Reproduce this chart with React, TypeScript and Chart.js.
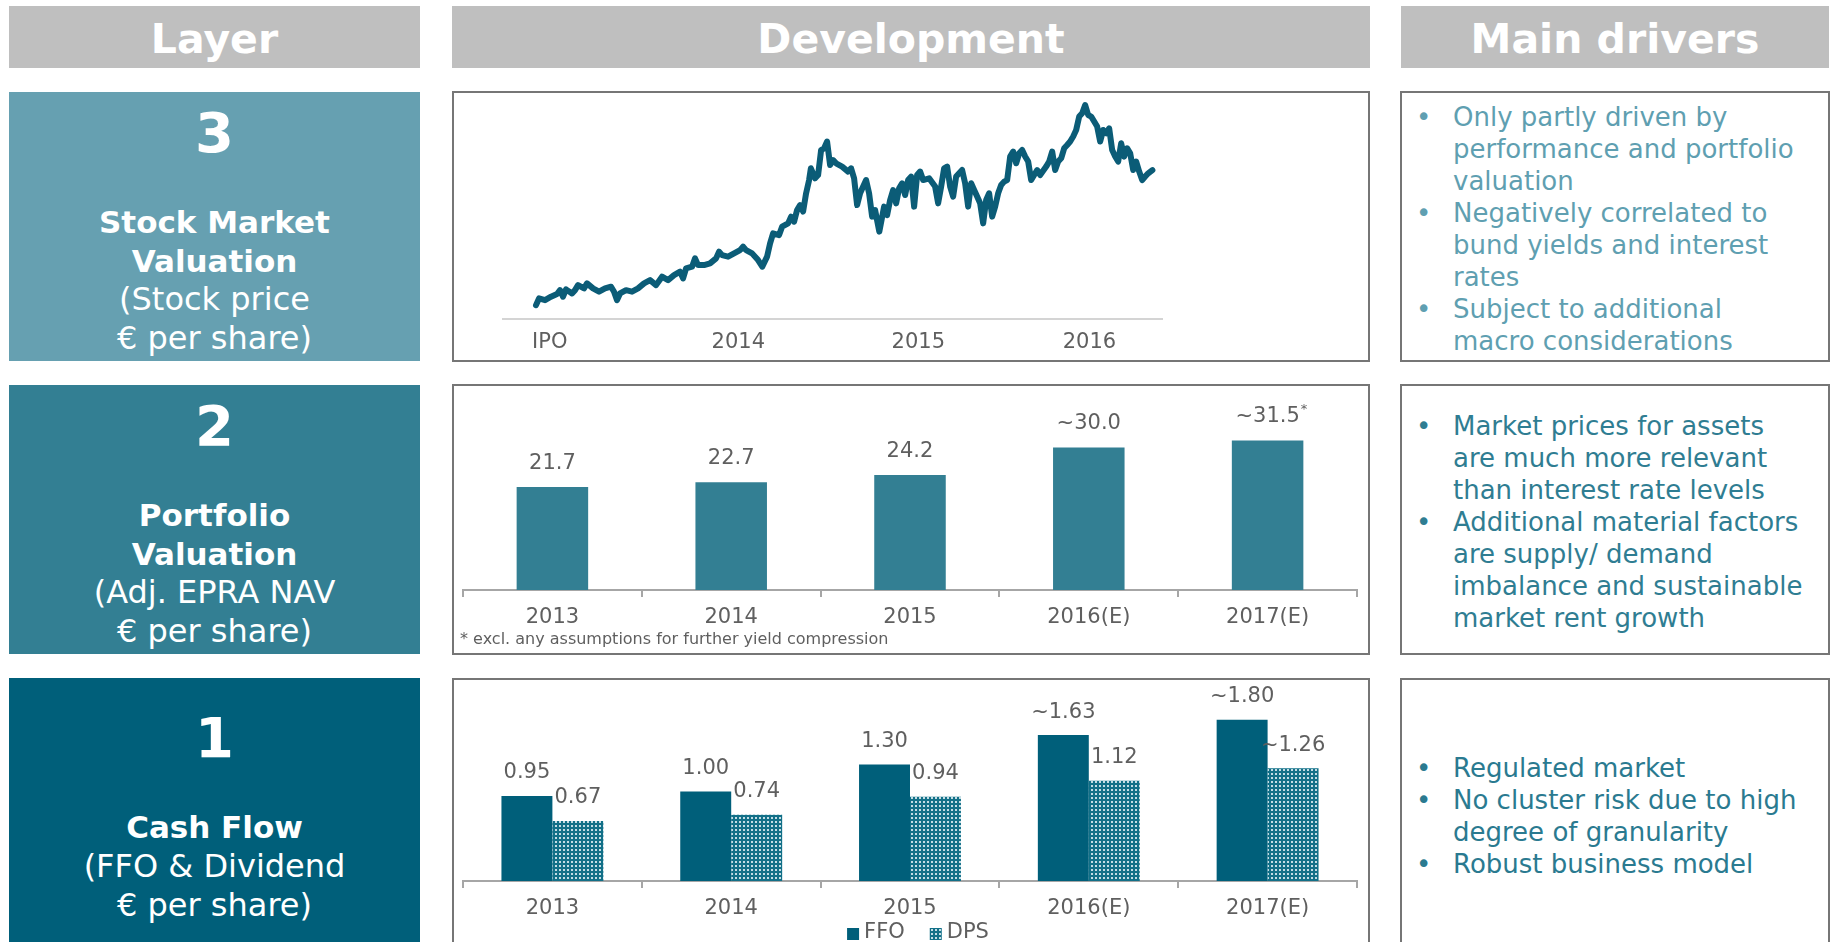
import React, { useEffect, useRef } from 'react';
import { Chart, registerables } from 'chart.js';

Chart.register(...registerables);

const FONT = '"DejaVu Sans", Verdana, sans-serif';
Chart.defaults.font.family = FONT;

// ---------- DATA ----------
const headerTitles = ['Layer', 'Development', 'Main drivers'];

// Stock price (approx. € per share), x = trading-day index since IPO
const stockDays = [0, 5, 15, 25, 35, 40, 45, 50, 60, 65, 70, 80, 85, 95, 105, 115, 125, 130, 135, 140, 150, 160, 170, 180, 190, 200, 210, 220, 230, 240, 245, 250, 260, 265, 270, 280, 290, 300, 305, 310, 320, 330, 340, 345, 350, 360, 370, 377, 385, 390, 395, 405, 410, 420, 425, 430, 435, 440, 445, 450, 455, 458, 465, 470, 475, 480, 485, 490, 495, 500, 510, 520, 525, 530, 535, 540, 550, 555, 560, 565, 572, 580, 585, 590, 595, 600, 605, 610, 615, 620, 625, 630, 635, 640, 645, 655, 665, 670, 675, 680, 685, 690, 695, 700, 705, 710, 715, 720, 725, 730, 735, 740, 745, 750, 755, 760, 765, 770, 775, 780, 785, 790, 795, 800, 805, 810, 815, 820, 825, 830, 835, 840, 850, 855, 860, 865, 870, 875, 880, 885, 890, 895, 900, 905, 910, 915, 920, 925, 930, 935, 940, 945, 950, 955, 960, 965, 970, 975, 980, 985, 990, 995, 1000, 1005, 1010, 1015, 1020, 1027];
const stockPrices = [10.10, 10.45, 10.36, 10.54, 10.68, 10.88, 10.54, 10.92, 10.71, 10.88, 11.14, 10.97, 11.23, 10.97, 10.80, 10.97, 11.06, 10.80, 10.36, 10.71, 10.88, 10.80, 10.97, 11.23, 11.40, 11.14, 11.58, 11.40, 11.66, 11.84, 11.49, 12.01, 12.10, 12.53, 12.18, 12.18, 12.27, 12.53, 12.88, 12.70, 12.62, 12.79, 12.96, 13.14, 12.96, 12.79, 12.44, 12.10, 12.62, 13.31, 13.83, 13.74, 14.18, 14.35, 14.70, 14.44, 15.04, 15.30, 14.96, 15.91, 16.60, 17.21, 16.69, 16.86, 18.16, 18.25, 18.60, 17.38, 17.64, 17.47, 17.30, 17.04, 17.21, 16.69, 15.30, 15.91, 16.60, 15.91, 14.70, 15.04, 13.92, 15.22, 14.78, 15.56, 16.08, 15.39, 16.17, 16.43, 15.82, 16.60, 16.78, 15.22, 16.86, 17.04, 16.60, 16.69, 16.26, 15.39, 16.26, 17.21, 17.30, 16.26, 15.74, 16.78, 16.95, 17.12, 16.43, 15.22, 16.43, 16.08, 15.74, 15.39, 14.35, 15.56, 15.91, 14.70, 15.22, 15.91, 16.34, 16.52, 16.60, 17.82, 18.08, 17.47, 17.99, 18.16, 17.82, 17.56, 16.60, 16.86, 17.12, 16.86, 17.30, 17.56, 18.08, 17.12, 17.56, 17.73, 18.25, 18.42, 18.60, 18.86, 19.20, 19.90, 20.07, 20.50, 19.98, 19.90, 19.64, 19.38, 18.60, 19.20, 19.03, 19.29, 18.16, 17.82, 17.56, 18.51, 17.82, 18.25, 17.99, 17.12, 17.56, 17.04, 16.60, 16.78, 16.95, 17.12];
const stockTickDays = [23, 337, 637, 922];
const stockTickLabels = ['IPO', '2014', '2015', '2016'];

const years = ['2013', '2014', '2015', '2016(E)', '2017(E)'];

const navValues = [21.7, 22.7, 24.2, 30.0, 31.5];
const navLabels = ['21.7', '22.7', '24.2', '~30.0', '~31.5'];
const navMarks = ['', '', '', '', '*'];
const navFootnote = '* excl. any assumptions for further yield compression';

const seriesNames = ['FFO', 'DPS'];
const ffoValues = [0.95, 1.0, 1.3, 1.63, 1.8];
const dpsValues = [0.67, 0.74, 0.94, 1.12, 1.26];
const ffoLabels = ['0.95', '1.00', '1.30', '~1.63', '~1.80'];
const dpsLabels = ['0.67', '0.74', '0.94', '1.12', '~1.26'];

const layers = [
  { num: '3', bold: ['Stock Market', 'Valuation'], normal: ['(Stock price', '€ per share)'] },
  { num: '2', bold: ['Portfolio', 'Valuation'], normal: ['(Adj. EPRA NAV', '€ per share)'] },
  { num: '1', bold: ['Cash Flow'], normal: ['(FFO & Dividend', '€ per share)'] },
];

const drivers = [
  [['Only partly driven by', 'performance and portfolio', 'valuation'], ['Negatively correlated to', 'bund yields and interest', 'rates'], ['Subject to additional', 'macro considerations']],
  [['Market prices for assets', 'are much more relevant', 'than interest rate levels'], ['Additional material factors', 'are supply/ demand', 'imbalance and sustainable', 'market rent growth']],
  [['Regulated market'], ['No cluster risk due to high', 'degree of granularity'], ['Robust business model']],
];

// ---------- STYLE ----------
const HEADER_GRAY = '#bfbfbf';
const LAYER_COLORS = ['#66a0b1', '#337f93', '#005f7a'];
const DRIVER_COLORS = ['#5f9fb1', '#2f7d92', '#2a7a90'];
const ROW_TOPS = [91, 384, 678];
const LABEL_GRAY = '#5f5f5f';
const AXIS_GRAY = '#a6a6a6';

function makeValueLabels(labelSets: string[][], marks: string[][] | null, size: number, offset: number) {
  return {
    id: 'valueLabels',
    afterDatasetsDraw(chart: any) {
      const ctx = chart.ctx;
      ctx.save();
      ctx.fillStyle = LABEL_GRAY;
      ctx.textAlign = 'center';
      ctx.textBaseline = 'middle';
      labelSets.forEach((arr, di) => {
        const meta = chart.getDatasetMeta(di);
        meta.data.forEach((el: any, j: number) => {
          const txt = arr[j];
          const x = el.x;
          const y = el.y - offset;
          ctx.font = `${size}px ${FONT}`;
          ctx.fillText(txt, x, y);
          const m = marks && marks[di] ? marks[di][j] : '';
          if (m) {
            const w = ctx.measureText(txt).width;
            ctx.font = `${Math.round(size * 0.6)}px ${FONT}`;
            ctx.textAlign = 'left';
            ctx.fillText(m, x + w / 2 + 1, y - size * 0.35);
            ctx.textAlign = 'center';
          }
        });
      });
      ctx.restore();
    },
  };
}

function makeBottomLegend(size: number, below: number) {
  return {
    id: 'bottomLegend',
    afterDraw(chart: any) {
      const ctx = chart.ctx;
      const { left, right, bottom } = chart.chartArea;
      const ds = chart.data.datasets;
      ctx.save();
      ctx.font = `${size}px ${FONT}`;
      ctx.textBaseline = 'middle';
      ctx.textAlign = 'left';
      const box = 12, gap = 5, itemGap = 25;
      const widths = ds.map((d: any) => box + gap + ctx.measureText(d.label).width);
      const total = widths.reduce((a: number, b: number) => a + b, 0) + itemGap * (ds.length - 1);
      let x = (left + right) / 2 - total / 2 + 8;
      const y = bottom + below;
      ds.forEach((d: any, i: number) => {
        ctx.fillStyle = d.backgroundColor;
        ctx.fillRect(x, y - box / 2 + 1, box, box);
        ctx.fillStyle = LABEL_GRAY;
        ctx.fillText(d.label, x + box + gap, y);
        x += widths[i] + itemGap;
      });
      ctx.restore();
    },
  };
}

function dotPattern(ctx: CanvasRenderingContext2D) {
  const c = document.createElement('canvas');
  c.width = 4;
  c.height = 4;
  const g = c.getContext('2d')!;
  g.fillStyle = '#127088';
  g.fillRect(0, 0, 4, 4);
  g.fillStyle = '#c3dde5';
  g.fillRect(1, 1, 2, 2);
  return ctx.createPattern(c, 'repeat');
}

const tickFont = { family: FONT, size: 21 };

function CanvasBox({ left, top, width, height, make }: any) {
  const ref = useRef<HTMLCanvasElement>(null);
  useEffect(() => {
    const chart = make(ref.current);
    return () => chart.destroy();
  }, []);
  return (
    <canvas
      ref={ref}
      width={width}
      height={height}
      style={{ position: 'absolute', left, top, width, height }}
    />
  );
}

function makeStock(canvas: HTMLCanvasElement) {
  return new Chart(canvas, {
    type: 'line',
    data: {
      datasets: [
        {
          data: stockDays.map((d, i) => ({ x: d, y: stockPrices[i] })),
          borderColor: '#0b5c77',
          borderWidth: 6,
          pointRadius: 0,
          tension: 0,
          fill: false,
          borderJoinStyle: 'round',
          borderCapStyle: 'round',
        },
      ],
    },
    options: {
      responsive: false,
      animation: false,
      layout: { padding: { left: 49, right: 206, top: 7, bottom: 0 } },
      plugins: { legend: { display: false }, tooltip: { enabled: false } },
      scales: {
        x: {
          type: 'linear',
          min: -55,
          max: 1043,
          afterBuildTicks: (s: any) => {
            s.ticks = stockTickDays.map((v) => ({ value: v }));
          },
          afterFit: (s: any) => {
            s.height = 40;
          },
          grid: { display: false, drawTicks: false },
          border: { display: true, color: '#d4d4d4', width: 2 },
          ticks: {
            autoSkip: false,
            maxRotation: 0,
            padding: 11,
            color: LABEL_GRAY,
            font: tickFont,
            callback: (v: any) => {
              const i = stockTickDays.indexOf(Number(v));
              return i >= 0 ? stockTickLabels[i] : '';
            },
          },
        },
        y: { display: false, min: 9.38, max: 20.76 },
      },
    },
  } as any);
}

function barXAxis(height: number) {
  return {
    grid: { display: true, drawOnChartArea: false, drawTicks: true, tickLength: 7, offset: true, color: AXIS_GRAY, lineWidth: 2 },
    border: { display: true, color: AXIS_GRAY, width: 2 },
    ticks: { padding: 8, color: LABEL_GRAY, font: tickFont, maxRotation: 0, autoSkip: false },
    afterFit: (s: any) => {
      s.height = height;
    },
  };
}

function makeNav(canvas: HTMLCanvasElement) {
  return new Chart(canvas, {
    type: 'bar',
    data: {
      labels: years,
      datasets: [{ label: 'Adj. EPRA NAV', data: navValues, backgroundColor: '#337f93', barPercentage: 0.4, categoryPercentage: 1 }],
    },
    options: {
      responsive: false,
      animation: false,
      layout: { padding: { left: 9, right: 11, top: 13, bottom: 0 } },
      plugins: { legend: { display: false }, tooltip: { enabled: false } },
      scales: { x: barXAxis(62), y: { display: false, min: 0, max: 40 } },
    },
    plugins: [makeValueLabels([navLabels], [navMarks], 21, 23.5)],
  } as any);
}

function makeCash(canvas: HTMLCanvasElement) {
  const ctx = canvas.getContext('2d')!;
  return new Chart(canvas, {
    type: 'bar',
    data: {
      labels: years,
      datasets: [
        { label: seriesNames[0], data: ffoValues, backgroundColor: '#005f7a', barPercentage: 1, categoryPercentage: 0.57 },
        { label: seriesNames[1], data: dpsValues, backgroundColor: dotPattern(ctx), barPercentage: 1, categoryPercentage: 0.57 },
      ],
    },
    options: {
      responsive: false,
      animation: false,
      layout: { padding: { left: 9, right: 11, top: 13, bottom: 0 } },
      plugins: { legend: { display: false }, tooltip: { enabled: false } },
      scales: { x: barXAxis(61), y: { display: false, min: 0, max: 2.1 } },
    },
    plugins: [makeValueLabels([ffoLabels, dpsLabels], null, 21, 23), makeBottomLegend(21, 52)],
  } as any);
}

function LayerBox({ idx }: { idx: number }) {
  const L = layers[idx];
  const top = [92, 385, 678][idx];
  const lines = [...L.bold.map((t) => ({ t, b: true })), ...L.normal.map((t) => ({ t, b: false }))];
  const shift = (4 - lines.length) * 19.4;
  const step = 38.7;
  return (
    <div style={{ position: 'absolute', left: 9, top, width: 411, height: 269, background: LAYER_COLORS[idx], color: '#fff' }}>
      <div style={{ position: 'absolute', left: 0, width: 411, top: 40.5 + shift - 35, height: 70, lineHeight: '70px', textAlign: 'center', fontWeight: 'bold', fontSize: 56 }}>
        {L.num}
      </div>
      {lines.map((ln, i) => (
        <div
          key={i}
          style={{
            position: 'absolute',
            left: 0,
            width: 411,
            top: 130 + shift + i * step - 20,
            height: 40,
            lineHeight: '40px',
            textAlign: 'center',
            fontWeight: ln.b ? 'bold' : 'normal',
            fontSize: ln.b ? 31 : 32,
            whiteSpace: 'nowrap',
          }}
        >
          {ln.t}
        </div>
      ))}
    </div>
  );
}

function DriverBox({ idx }: { idx: number }) {
  return (
    <div
      style={{
        position: 'absolute',
        left: 1400,
        top: ROW_TOPS[idx],
        width: 430,
        height: 271,
        border: '2px solid #767676',
        boxSizing: 'border-box',
        display: 'flex',
        flexDirection: 'column',
        justifyContent: 'center',
        paddingTop: 4,
        color: DRIVER_COLORS[idx],
        fontSize: 26,
        lineHeight: '32px',
      }}
    >
      {drivers[idx].map((b, i) => (
        <div key={i} style={{ position: 'relative', paddingLeft: 51 }}>
          <span style={{ position: 'absolute', left: 14, top: 0 }}>•</span>
          {b.map((ln, j) => (
            <div key={j} style={{ whiteSpace: 'nowrap' }}>
              {ln}
            </div>
          ))}
        </div>
      ))}
    </div>
  );
}

function DevBox({ idx }: { idx: number }) {
  return (
    <div
      style={{
        position: 'absolute',
        left: 452,
        top: ROW_TOPS[idx],
        width: 918,
        height: 271,
        border: '2px solid #767676',
        boxSizing: 'border-box',
      }}
    />
  );
}

export default function App() {
  const headers = [
    { left: 9, width: 411 },
    { left: 452, width: 918 },
    { left: 1401, width: 428 },
  ];
  return (
    <div style={{ position: 'absolute', left: 0, top: 0, width: 1833, height: 942, overflow: 'hidden', background: '#fff', fontFamily: FONT }}>
      {headers.map((h, i) => (
        <div
          key={i}
          style={{
            position: 'absolute',
            left: h.left,
            top: 6,
            width: h.width,
            height: 62,
            background: HEADER_GRAY,
            color: '#fff',
            fontWeight: 'bold',
            fontSize: 41,
            lineHeight: '66px',
            textAlign: 'center',
            overflow: 'hidden',
          }}
        >
          {headerTitles[i]}
        </div>
      ))}
      {[0, 1, 2].map((i) => (
        <LayerBox key={'l' + i} idx={i} />
      ))}
      {[0, 1, 2].map((i) => (
        <DevBox key={'d' + i} idx={i} />
      ))}
      {[0, 1, 2].map((i) => (
        <DriverBox key={'m' + i} idx={i} />
      ))}
      <CanvasBox left={454} top={93} width={914} height={266} make={makeStock} />
      <CanvasBox left={454} top={387} width={914} height={265} make={makeNav} />
      <CanvasBox left={454} top={680} width={914} height={262} make={makeCash} />
      <div style={{ position: 'absolute', left: 460, top: 630, fontSize: 16, lineHeight: '18px', color: LABEL_GRAY, whiteSpace: 'nowrap' }}>
        {navFootnote}
      </div>
    </div>
  );
}
